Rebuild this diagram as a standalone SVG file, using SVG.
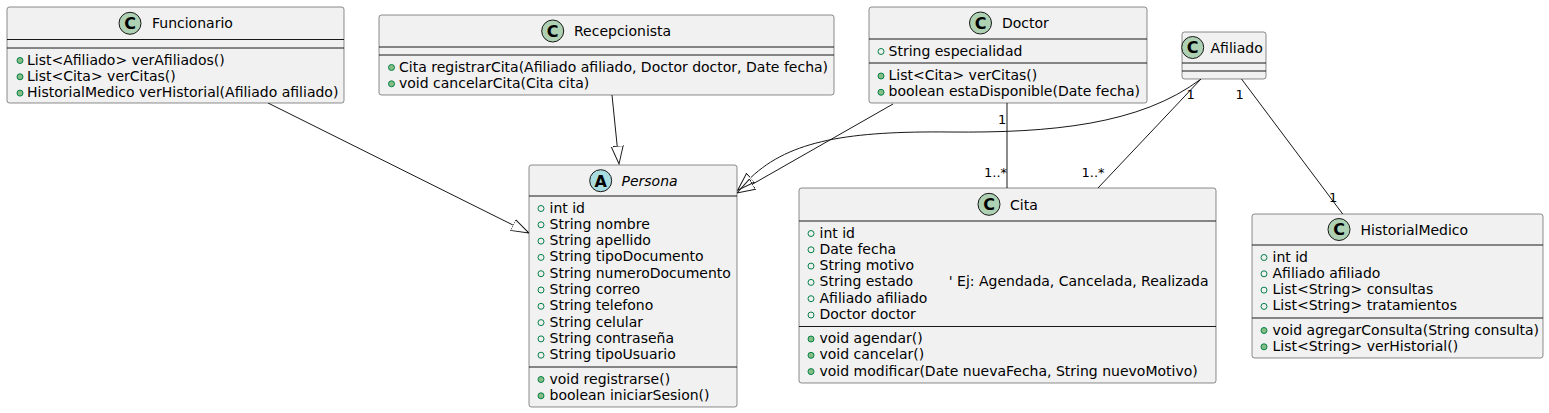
<svg xmlns="http://www.w3.org/2000/svg" width="1549" height="413" viewBox="0 0 1549 413">
<style>
.box{fill:#F1F1F1;stroke:#181818;stroke-width:0.5}
.sep{stroke:#181818;stroke-width:1}
.t{font-family:"DejaVu Sans",sans-serif;font-size:14px;fill:#000}
.it{font-style:italic}
.lbl{font-family:"DejaVu Sans",sans-serif;font-size:13px;fill:#000}
.edge{fill:none;stroke:#181818;stroke-width:1}
.fa{fill:none;stroke:#038048;stroke-width:1}
.fm{fill:#84BE84;stroke:#038048;stroke-width:1}
.cc{fill:#ADD1B2;stroke:#181818;stroke-width:1}
.ca{fill:#A9DCDF;stroke:#181818;stroke-width:1}
.cl{font-family:"DejaVu Sans",sans-serif;font-size:16px;font-weight:bold;fill:#000;text-anchor:middle}
</style>
<defs>
<marker id="ext" markerUnits="userSpaceOnUse" markerWidth="20" markerHeight="14" refX="0" refY="7" orient="auto" viewBox="0 0 20 14">
<path d="M0,1 L18,7 L0,13 Z" fill="none" stroke="#181818" stroke-width="1"/>
</marker>
</defs>

<g id="connectors">
<path class="edge" d="M268,103 L512.9,225" marker-end="url(#ext)"/>
<path class="edge" d="M612,95 L617.2,146.1" marker-end="url(#ext)"/>
<path class="edge" d="M893,104 L752.6,184.1" marker-end="url(#ext)"/>
<path class="edge" d="M1201,79 C1140,125 1050,133 950,132 C850,131 790,140 750.7,177.7" marker-end="url(#ext)"/>
<path class="edge" d="M1007,103 L1007,188"/>
<text class="lbl" x="998" y="124">1</text>
<text class="lbl" x="984" y="177">1..*</text>
<path class="edge" d="M1201,79 L1098,188"/>
<text class="lbl" x="1186.5" y="99">1</text>
<text class="lbl" x="1081.5" y="177">1..*</text>
<path class="edge" d="M1241.5,79 L1342.7,214"/>
<text class="lbl" x="1235.5" y="99">1</text>
<text class="lbl" x="1329" y="202">1</text>
</g>

<g id="Funcionario">
<rect class="box" x="7" y="7" width="337" height="96" rx="2.5"/>
<circle class="cc" cx="130" cy="23.3" r="11"/>
<text class="cl" x="130" y="29">C</text>
<text class="t" x="152" y="28.3">Funcionario</text>
<line class="sep" x1="7" y1="39.5" x2="344" y2="39.5"/>
<line class="sep" x1="7" y1="48" x2="344" y2="48"/>
<circle class="fm" cx="20" cy="60.5" r="3"/><text class="t" x="27" y="64.5">List&lt;Afiliado&gt; verAfiliados()</text>
<circle class="fm" cx="20" cy="76.8" r="3"/><text class="t" x="27" y="80.8">List&lt;Cita&gt; verCitas()</text>
<circle class="fm" cx="20" cy="93.1" r="3"/><text class="t" x="27" y="97.1">HistorialMedico verHistorial(Afiliado afiliado)</text>
</g>

<g id="Recepcionista">
<rect class="box" x="379" y="15" width="455" height="80" rx="2.5"/>
<circle class="cc" cx="552.7" cy="31" r="11"/>
<text class="cl" x="552.7" y="36.8">C</text>
<text class="t" x="574" y="36">Recepcionista</text>
<line class="sep" x1="379" y1="47" x2="834" y2="47"/>
<line class="sep" x1="379" y1="55" x2="834" y2="55"/>
<circle class="fm" cx="391.5" cy="67.5" r="3"/><text class="t" x="399" y="71.5">Cita registrarCita(Afiliado afiliado, Doctor doctor, Date fecha)</text>
<circle class="fm" cx="391.5" cy="83.8" r="3"/><text class="t" x="399" y="87.8">void cancelarCita(Cita cita)</text>
</g>

<g id="Doctor">
<rect class="box" x="869" y="7" width="278" height="96" rx="2.5"/>
<circle class="cc" cx="980.5" cy="23" r="11"/>
<text class="cl" x="980.5" y="28.8">C</text>
<text class="t" x="1002" y="28">Doctor</text>
<line class="sep" x1="869" y1="39" x2="1147" y2="39"/>
<circle class="fa" cx="881" cy="51.5" r="3"/><text class="t" x="888.5" y="55.5">String especialidad</text>
<line class="sep" x1="869" y1="63" x2="1147" y2="63"/>
<circle class="fm" cx="881" cy="76" r="3"/><text class="t" x="888.5" y="80">List&lt;Cita&gt; verCitas()</text>
<circle class="fm" cx="881" cy="92.3" r="3"/><text class="t" x="888.5" y="96.3">boolean estaDisponible(Date fecha)</text>
</g>

<g id="Afiliado">
<rect class="box" x="1182" y="32" width="84" height="47" rx="2.5"/>
<circle class="cc" cx="1192.7" cy="47.5" r="11"/>
<text class="cl" x="1192.7" y="53.3">C</text>
<text class="t" x="1210.5" y="52.5">Afiliado</text>
<line class="sep" x1="1182" y1="63" x2="1266" y2="63"/>
<line class="sep" x1="1182" y1="71" x2="1266" y2="71"/>
</g>

<g id="Persona">
<rect class="box" x="529" y="165" width="208" height="242" rx="2.5"/>
<circle class="ca" cx="600.7" cy="180.7" r="11"/>
<text class="cl" x="600.7" y="186.5">A</text>
<text class="t it" x="621.5" y="185.7">Persona</text>
<line class="sep" x1="529" y1="196" x2="737" y2="196"/>
<circle class="fa" cx="541" cy="208.5" r="3"/><text class="t" x="549.5" y="212.5">int id</text>
<circle class="fa" cx="541" cy="224.8" r="3"/><text class="t" x="549.5" y="228.8">String nombre</text>
<circle class="fa" cx="541" cy="241.1" r="3"/><text class="t" x="549.5" y="245.1">String apellido</text>
<circle class="fa" cx="541" cy="257.4" r="3"/><text class="t" x="549.5" y="261.4">String tipoDocumento</text>
<circle class="fa" cx="541" cy="273.7" r="3"/><text class="t" x="549.5" y="277.7">String numeroDocumento</text>
<circle class="fa" cx="541" cy="290" r="3"/><text class="t" x="549.5" y="294">String correo</text>
<circle class="fa" cx="541" cy="306.3" r="3"/><text class="t" x="549.5" y="310.3">String telefono</text>
<circle class="fa" cx="541" cy="322.6" r="3"/><text class="t" x="549.5" y="326.6">String celular</text>
<circle class="fa" cx="541" cy="338.9" r="3"/><text class="t" x="549.5" y="342.9">String contraseña</text>
<circle class="fa" cx="541" cy="355.2" r="3"/><text class="t" x="549.5" y="359.2">String tipoUsuario</text>
<line class="sep" x1="529" y1="367" x2="737" y2="367"/>
<circle class="fm" cx="541" cy="379.5" r="3"/><text class="t" x="549.5" y="383.5">void registrarse()</text>
<circle class="fm" cx="541" cy="395.8" r="3"/><text class="t" x="549.5" y="399.8">boolean iniciarSesion()</text>
</g>

<g id="Cita">
<rect class="box" x="799" y="188" width="417" height="195" rx="2.5"/>
<circle class="cc" cx="989" cy="204.3" r="11"/>
<text class="cl" x="989" y="210.1">C</text>
<text class="t" x="1010" y="209.5">Cita</text>
<line class="sep" x1="799" y1="221" x2="1216" y2="221"/>
<circle class="fa" cx="811" cy="233.5" r="3"/><text class="t" x="819.5" y="237.5">int id</text>
<circle class="fa" cx="811" cy="249.8" r="3"/><text class="t" x="819.5" y="253.8">Date fecha</text>
<circle class="fa" cx="811" cy="266.1" r="3"/><text class="t" x="819.5" y="270.1">String motivo</text>
<circle class="fa" cx="811" cy="282.4" r="3"/><text class="t" x="819.5" y="286.4" xml:space="preserve">String estado        ' Ej: Agendada, Cancelada, Realizada</text>
<circle class="fa" cx="811" cy="298.7" r="3"/><text class="t" x="819.5" y="302.7">Afiliado afiliado</text>
<circle class="fa" cx="811" cy="315" r="3"/><text class="t" x="819.5" y="319">Doctor doctor</text>
<line class="sep" x1="799" y1="326.5" x2="1216" y2="326.5"/>
<circle class="fm" cx="811" cy="339" r="3"/><text class="t" x="819.5" y="343">void agendar()</text>
<circle class="fm" cx="811" cy="355.3" r="3"/><text class="t" x="819.5" y="359.3">void cancelar()</text>
<circle class="fm" cx="811" cy="371.6" r="3"/><text class="t" x="819.5" y="375.6">void modificar(Date nuevaFecha, String nuevoMotivo)</text>
</g>

<g id="HistorialMedico">
<rect class="box" x="1252" y="214" width="291" height="144" rx="2.5"/>
<circle class="cc" cx="1339" cy="229.5" r="11"/>
<text class="cl" x="1339" y="235.3">C</text>
<text class="t" x="1360.5" y="234.5">HistorialMedico</text>
<line class="sep" x1="1252" y1="245" x2="1543" y2="245"/>
<circle class="fa" cx="1264" cy="257.5" r="3"/><text class="t" x="1272.5" y="261.5">int id</text>
<circle class="fa" cx="1264" cy="273.8" r="3"/><text class="t" x="1272.5" y="277.8">Afiliado afiliado</text>
<circle class="fa" cx="1264" cy="290.1" r="3"/><text class="t" x="1272.5" y="294.1">List&lt;String&gt; consultas</text>
<circle class="fa" cx="1264" cy="306.4" r="3"/><text class="t" x="1272.5" y="310.4">List&lt;String&gt; tratamientos</text>
<line class="sep" x1="1252" y1="318" x2="1543" y2="318"/>
<circle class="fm" cx="1264" cy="330.5" r="3"/><text class="t" x="1272.5" y="334.5">void agregarConsulta(String consulta)</text>
<circle class="fm" cx="1264" cy="346.8" r="3"/><text class="t" x="1272.5" y="350.8">List&lt;String&gt; verHistorial()</text>
</g>
</svg>
